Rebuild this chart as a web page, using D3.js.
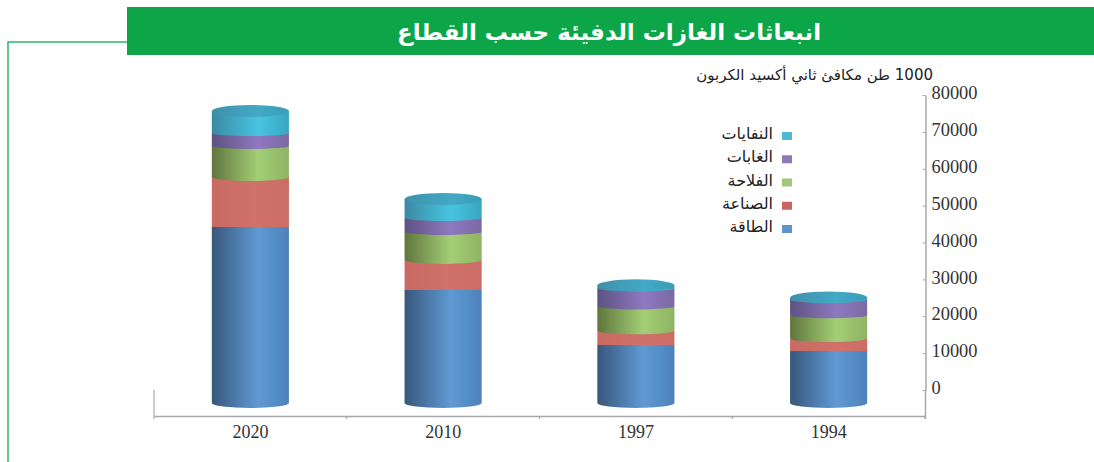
<!DOCTYPE html>
<html>
<head>
<meta charset="utf-8">
<script src="https://cdn.jsdelivr.net/npm/d3@7"></script>
<style>
  body { margin: 0; background: #fff; }
  svg { display: block; }
  .arabic { font-family: "DejaVu Sans", sans-serif; direction: rtl; }
  .num { font-family: "Liberation Serif", serif; }
</style>
</head>
<body>
<script>
const titleText = 'انبعاثات الغازات الدفيئة حسب القطاع';
const unitText = '1000 طن مكافئ ثاني أكسيد الكربون';

const years = ['2020', '2010', '1997', '1994'];
const sectors = ['الطاقة', 'الصناعة', 'الفلاحة', 'الغابات', 'النفايات'];

// values per year, same order as sectors
const energy = [47700, 30650, 15700, 14100];
const industry = [13600, 8150, 4000, 3500];
const farming = [8400, 7600, 6500, 6200];
const forests = [3500, 3800, 4900, 4200];
const waste = [6000, 5100, 800, 600];
const seriesValues = [energy, industry, farming, forests, waste];

const yTicks = [0, 10000, 20000, 30000, 40000, 50000, 60000, 70000, 80000];

const swatchColors = ['#5f93cc', '#c9665f', '#a3c67a', '#8c7bb8', '#4db9d3'];
const gradStops = [
  ['#38577c', '#5f9ad4', '#4d82b9'],
  ['#c96a62', '#d0726a', '#cc6c64'],
  ['#5f763d', '#a4ce76', '#8db463'],
  ['#5d5282', '#8e79be', '#7b69a5'],
  ['#3a89a3', '#47c4df', '#39a6c1'],
];
// the bottom edge of each band, the red one is flat in the picture
const bottomCurve = [5, 0, 4, 3, 3];

const width = 1094, height = 462;
const depth = 13; // bars stand in front of the axis wall
const floorY = 416;

const svg = d3.select('body').append('svg').attr('width', width).attr('height', height);
const defs = svg.append('defs');

gradStops.forEach((c, i) => {
  const g = defs.append('linearGradient').attr('id', 'grad' + i);
  g.selectAll('stop').data(c).enter().append('stop')
    .attr('offset', (d, j) => [0, 0.6, 1][j])
    .attr('stop-color', d => d);
});
const capGrad = defs.append('linearGradient').attr('id', 'cap');
capGrad.selectAll('stop').data(['#3f90ab', '#43a9c4', '#3a9db8']).enter().append('stop')
  .attr('offset', (d, j) => [0, 0.6, 1][j])
  .attr('stop-color', d => d);

const x = d3.scaleBand().domain(years).range([154, 925]).paddingInner(0.6).paddingOuter(0.3);
const y = d3.scaleLinear().domain([0, 80000]).range([390, 95]);

// frame and title band
svg.append('path')
  .attr('d', d3.line()([[127, 42], [8, 42], [8, height]]))
  .attr('fill', 'none').attr('stroke', '#2fb566').attr('stroke-width', 1.5);
svg.append('rect').attr('x', 127).attr('y', 7).attr('width', width - 127).attr('height', 48).attr('fill', '#0ca648');
svg.append('text').attr('class', 'arabic')
  .attr('x', 609).attr('y', 40)
  .attr('text-anchor', 'middle')
  .attr('font-size', 23).attr('font-weight', 'bold').attr('fill', '#fff')
  .text(titleText);

svg.append('text').attr('class', 'arabic')
  .attr('x', 933).attr('y', 80)
  .attr('text-anchor', 'start')
  .attr('font-size', 15).attr('fill', '#222')
  .text(unitText);

// axes
const yAxis = svg.append('g').attr('class', 'num')
  .attr('transform', 'translate(925.5,0)')
  .call(d3.axisRight(y).tickValues(yTicks).tickFormat(d => d).tickSizeInner(-3).tickSizeOuter(0).tickPadding(6));
yAxis.selectAll('text').attr('font-size', 18.4).attr('fill', '#333').attr('font-family', '"Liberation Serif", serif').attr('dy', '0.2em');
yAxis.selectAll('line').attr('stroke', '#a7a8ad');
yAxis.select('.domain').attr('stroke', '#a7a8ad').attr('stroke-width', 1.5);

const xAxis = svg.append('g').attr('class', 'num')
  .attr('transform', `translate(0,${floorY})`)
  .call(d3.axisBottom(x).tickSize(0).tickPadding(9));
xAxis.selectAll('text').attr('font-size', 18).attr('fill', '#333').attr('font-family', '"Liberation Serif", serif');
xAxis.select('.domain').attr('stroke', '#a7a8ad').attr('stroke-width', 1.4);

const boundaries = d3.range(years.length + 1).map(i => x.range()[0] + i * x.step());
svg.append('g').selectAll('line').data(boundaries).enter().append('line')
  .attr('x1', d => d).attr('x2', d => d)
  .attr('y1', floorY).attr('y2', floorY + 3)
  .attr('stroke', '#a7a8ad').attr('stroke-width', 1.2);
svg.append('line').attr('x1', 154).attr('x2', 154).attr('y1', y(0)).attr('y2', floorY)
  .attr('stroke', '#a7a8ad').attr('stroke-width', 1.2);
svg.append('line').attr('x1', 925.5).attr('x2', 925.5).attr('y1', y(0)).attr('y2', floorY + 3)
  .attr('stroke', '#a7a8ad').attr('stroke-width', 1.5);

// cylinders, bottom band first so the curved edge lies over the band below
const rx = x.bandwidth() / 2;
const stack = d3.stack().keys(d3.range(sectors.length)).value((d, k) => seriesValues[k][years.indexOf(d)])(years);

const bands = svg.append('g').selectAll('g').data(stack).enter().append('g')
  .attr('fill', d => `url(#grad${d.key})`);

bands.selectAll('path').data(d => d.map(p => ({ p: p, key: d.key, year: p.data }))).enter().append('path')
  .attr('d', d => {
    const x0 = x(d.year), x1 = x0 + 2 * rx;
    const top = y(d.p[1]) + depth, bot = y(d.p[0]) + depth;
    const ry = bottomCurve[d.key];
    return `M${x0},${top}L${x1},${top}L${x1},${bot}` +
      (ry ? `A${rx},${ry} 0 0 1 ${x0},${bot}` : `L${x0},${bot}`) + 'Z';
  });

const topBand = stack[stack.length - 1];
svg.append('g').selectAll('ellipse').data(topBand).enter().append('ellipse')
  .attr('cx', d => x(d.data) + rx)
  .attr('cy', d => y(d[1]) + depth)
  .attr('rx', rx).attr('ry', 6)
  .attr('fill', 'url(#cap)');

// legend, top entry is the last sector
const legendY = d3.scalePoint().domain(d3.range(sectors.length)).range([229, 136]);
const legend = svg.append('g').selectAll('g').data(sectors).enter().append('g')
  .attr('transform', (d, i) => `translate(0,${legendY(i)})`);
legend.append('rect').attr('x', 782).attr('y', -4).attr('width', 10).attr('height', 8)
  .attr('fill', (d, i) => swatchColors[i]);
legend.append('text').attr('class', 'arabic')
  .attr('x', 773).attr('y', 3)
  .attr('text-anchor', 'start')
  .attr('font-size', 16).attr('fill', '#222')
  .text(d => d);
</script>
</body>
</html>
